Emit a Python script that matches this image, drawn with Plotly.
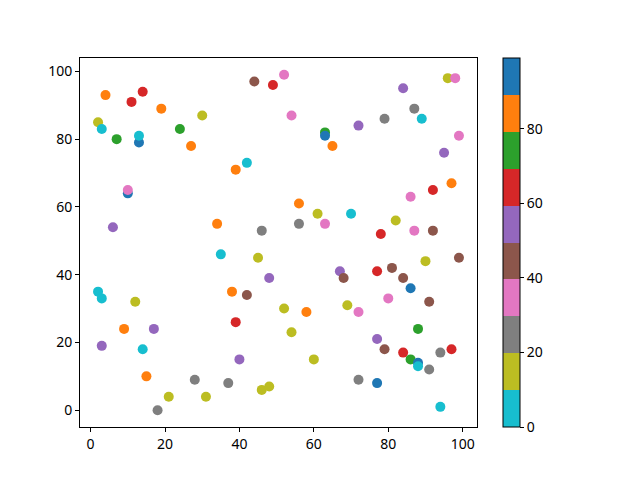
import plotly.graph_objects as go

# point positions
xs = [2, 3, 4, 7, 11, 14, 13, 13, 19, 24, 30, 27, 39, 42, 44, 49, 10, 10, 6, 34, 46,
      52, 54, 63, 63, 65, 72, 79, 84, 87, 89, 96, 98, 99, 95, 97, 92, 86, 56, 61, 70, 56, 63, 82, 78, 87, 92,
      2, 3, 3, 12, 9, 17, 14, 15, 18, 21, 28, 31, 35, 45, 38, 42, 39, 40, 37, 46, 48, 48,
      52, 54, 58, 60, 67, 68, 69, 72, 72, 77, 81, 84, 86, 80, 91, 90, 99, 88, 77, 79, 84, 86, 88, 88, 91, 94, 97, 77, 94]
ys = [85, 83, 93, 80, 91, 94, 79, 81, 89, 83, 87, 78, 71, 73, 97, 96, 64, 65, 54, 55, 53,
      99, 87, 82, 81, 78, 84, 86, 95, 89, 86, 98, 98, 81, 76, 67, 65, 63, 61, 58, 58, 55, 55, 56, 52, 53, 53,
      35, 33, 19, 32, 24, 24, 18, 10, 0, 4, 9, 4, 46, 45, 35, 34, 26, 15, 8, 6, 7, 39,
      30, 23, 29, 15, 41, 39, 31, 29, 9, 41, 42, 39, 36, 33, 32, 44, 45, 24, 21, 18, 17, 15, 14, 13, 12, 17, 18, 8, 1]
# colour values (estimated from colour band)
cs = [15, 5, 85, 75, 65, 65, 95, 5, 85, 75, 15, 85, 85, 5, 45, 65, 95, 35, 55, 85, 25,
      35, 35, 75, 95, 85, 55, 25, 55, 25, 5, 15, 35, 35, 55, 85, 65, 35, 85, 15, 5, 25, 35, 15, 65, 35, 45,
      5, 5, 55, 15, 85, 55, 5, 85, 25, 15, 25, 15, 5, 15, 85, 45, 65, 55, 25, 15, 15, 55,
      15, 15, 85, 15, 55, 45, 15, 35, 25, 65, 45, 45, 95, 35, 45, 15, 45, 75, 55, 45, 65, 75, 95, 5, 25, 25, 65, 95, 5]

tab10_r = ["#17becf", "#bcbd22", "#7f7f7f", "#e377c2", "#8c564b",
           "#9467bd", "#d62728", "#2ca02c", "#ff7f0e", "#1f77b4"]
cscale = []
for i, col in enumerate(tab10_r):
    cscale.append([i / 10, col])
    cscale.append([(i + 1) / 10, col])

font = dict(family="Noto Sans, DejaVu Sans, sans-serif", size=14, color="black")

fig = go.Figure(go.Scatter(
    x=xs, y=ys, mode="markers",
    marker=dict(
        size=10, color=cs, colorscale=cscale, cmin=0, cmax=99,
        line=dict(width=0),
        colorbar=dict(
            x=1.0655, xanchor="left", y=0.5, yanchor="middle",
            len=1, lenmode="fraction", thickness=17, xpad=0, ypad=0,
            outlinewidth=1, outlinecolor="black",
            tickvals=[0, 20, 40, 60, 80], ticks="outside", ticklen=4,
            tickcolor="black", tickfont=font,
        ),
    ),
))

axis = dict(showgrid=False, zeroline=False, showline=True, linecolor="black",
            linewidth=1, mirror=True, ticks="outside", ticklen=4,
            tickcolor="black", tickfont=font, tickvals=[0, 20, 40, 60, 80, 100])

# page body adds an 8px offset, so margins are shifted to compensate
fig.update_layout(
    width=640, height=480,
    margin=dict(l=72, r=171, t=50, b=61),
    paper_bgcolor="white", plot_bgcolor="white",
    font=font, showlegend=False,
    xaxis=dict(axis, range=[-2.85, 103.85]),
    yaxis=dict(axis, range=[-4.95, 103.95]),
)

fig.write_html("out.html")
